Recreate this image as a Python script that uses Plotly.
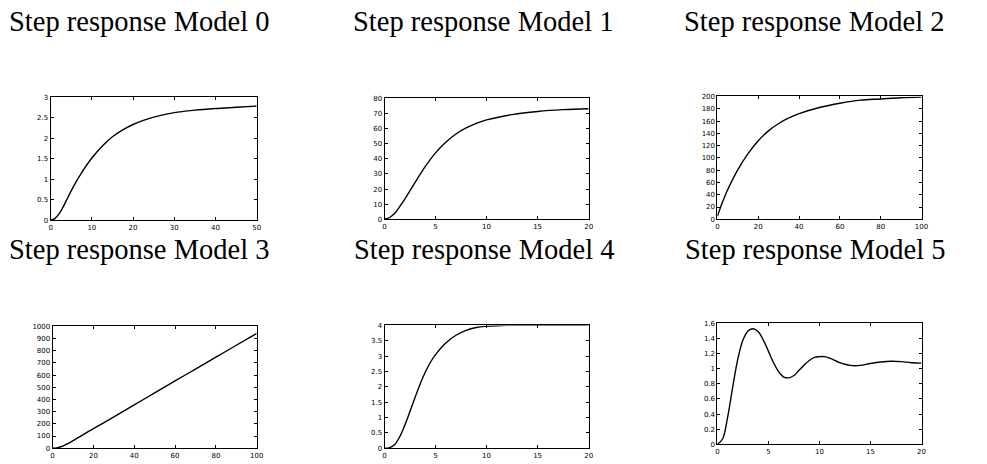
import plotly.graph_objects as go

# ---- data ----
titles = ["Step response Model 0", "Step response Model 1", "Step response Model 2",
          "Step response Model 3", "Step response Model 4", "Step response Model 5"]

t0 = [0, 1, 2, 3, 4, 5, 6, 7.5, 10, 12.5, 15, 17.5, 20, 22.5, 25, 30, 35, 40, 45, 50]
y0 = [0, 0.04, 0.15, 0.32, 0.52, 0.72, 0.91, 1.16, 1.52, 1.81, 2.04, 2.21, 2.34, 2.44, 2.52, 2.63, 2.69, 2.73, 2.76, 2.79]

t1 = [0, 0.5, 1, 1.5, 2, 2.5, 3, 4, 5, 6, 7, 8, 9, 10, 12.5, 15, 17.5, 20]
y1 = [0, 1.2, 4, 8.5, 13.5, 19, 24.5, 35, 44, 51, 56.5, 60.5, 63.5, 65.8, 69.3, 71.4, 72.6, 73.2]

t2 = [0, 2.5, 5, 10, 15, 20, 25, 30, 35, 40, 50, 60, 70, 80, 90, 100]
y2 = [5, 28, 48, 81, 107, 128, 144, 156, 165, 172, 182, 189, 194, 196, 198, 199]

t3 = [0, 2, 4, 6, 10, 20, 30, 40, 50, 60, 70, 80, 90, 100]
y3 = [0, 3, 12, 26, 62, 160, 257, 355, 455, 552, 650, 747, 845, 942]

t4 = [0, 0.5, 1, 1.5, 2, 2.5, 3, 3.5, 4, 4.5, 5, 6, 7, 8, 9, 10, 11, 12, 15, 20]
y4 = [0, 0.02, 0.12, 0.38, 0.76, 1.2, 1.66, 2.1, 2.48, 2.8, 3.05, 3.43, 3.68, 3.84, 3.93, 3.97, 3.99, 4.0, 4.0, 4.0]

t5 = [0, 0.5, 1, 1.5, 2, 2.5, 3, 3.5, 4, 4.5, 5, 5.5, 6, 6.5, 7, 7.5, 8, 8.5, 9, 9.5, 10,
      10.5, 11, 11.5, 12, 12.5, 13, 13.5, 14, 15, 16, 17, 18, 19, 20]
y5 = [0, 0.07, 0.36, 0.76, 1.13, 1.38, 1.5, 1.53, 1.49, 1.38, 1.23, 1.08, 0.96, 0.89, 0.88, 0.91,
      0.98, 1.05, 1.11, 1.15, 1.16, 1.16, 1.14, 1.11, 1.08, 1.06, 1.045, 1.04, 1.045, 1.07,
      1.09, 1.10, 1.095, 1.08, 1.075]

series = [(t0, y0), (t1, y1), (t2, y2), (t3, y3), (t4, y4), (t5, y5)]

x_ranges = [[0, 50], [0, 20], [0, 100], [0, 100], [0, 20], [0, 20]]
y_ranges = [[0, 3], [0, 80], [0, 200], [0, 1000], [0, 4], [0, 1.6]]
x_dticks = [10, 5, 20, 20, 5, 5]
y_dticks = [0.5, 10, 20, 100, 0.5, 0.2]

# ---- layout geometry (pixels in the reference; the page body adds an 8 px margin) ----
OFF = 8
W, H = 987 - OFF, 464 - OFF
boxes = [  # left, right, top, bottom
    (49, 257, 95, 220), (386, 592, 96, 219), (722, 928, 94, 219),
    (51, 257, 328, 452), (386, 592, 327, 452), (722, 928, 325, 448),
]
title_pos = [(138, 18), (485, 18), (819, 18), (138, 250), (486, 250), (820, 250)]

fig = go.Figure()
layout = dict(width=W, height=H, margin=dict(l=0, r=0, t=0, b=0),
              paper_bgcolor="white", plot_bgcolor="white", showlegend=False)

annotations = []
for i, ((t, y), (l, r, tp, bt)) in enumerate(zip(series, boxes)):
    l, r, tp, bt = l - OFF, r - OFF, tp - OFF, bt - OFF
    n = "" if i == 0 else str(i + 1)
    fig.add_trace(go.Scatter(x=t, y=y, mode="lines", line=dict(color="black", width=1.4, shape="spline"),
                             xaxis="x" + n, yaxis="y" + n, hoverinfo="skip"))
    common = dict(showgrid=False, zeroline=False, showline=True, linecolor="black", linewidth=1,
                  mirror="allticks", ticks="inside", ticklen=3, tickcolor="black",
                  tickfont=dict(family="DejaVu Sans", size=7, color="black"))
    layout["xaxis" + n] = dict(domain=[l / W, r / W], anchor="y" + n, range=x_ranges[i],
                               tick0=0, dtick=x_dticks[i], **common)
    layout["yaxis" + n] = dict(domain=[1 - bt / H, 1 - tp / H], anchor="x" + n, range=y_ranges[i],
                               tick0=0, dtick=y_dticks[i], **common)
    cx, cy = title_pos[i]
    cx, cy = cx - OFF, cy - OFF
    annotations.append(dict(text=titles[i], x=cx / W, y=1 - cy / H, xref="paper", yref="paper",
                            xanchor="center", yanchor="middle", showarrow=False,
                            font=dict(family="Liberation Serif", size=28.5, color="black")))

layout["annotations"] = annotations
fig.update_layout(**layout)
fig.write_html("out.html")
